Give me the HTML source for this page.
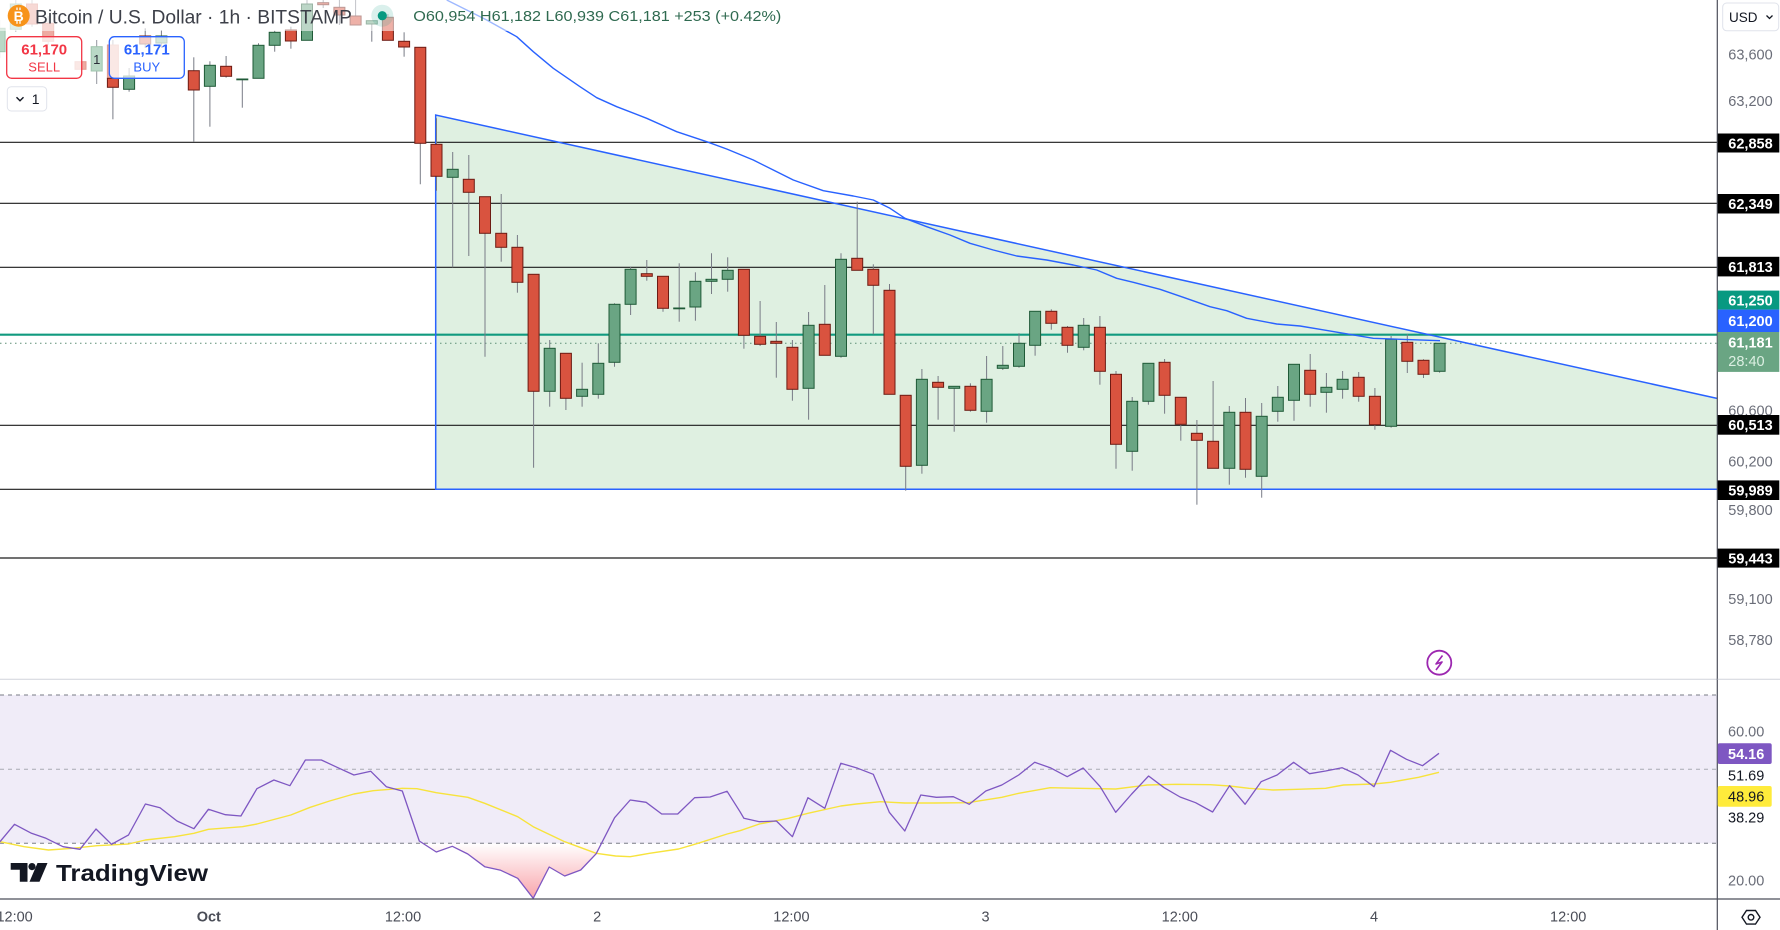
<!DOCTYPE html>
<html><head><meta charset="utf-8"><style>
html,body{margin:0;padding:0;background:#fff;width:1780px;height:930px;overflow:hidden}
svg{display:block}
text{font-family:"Liberation Sans",Arial,sans-serif}
.w{stroke:#787b86;stroke-width:1}
.g{fill:#6aa583;stroke:#1f5a37;stroke-width:1}
.r{fill:#d9533f;stroke:#6d1b13;stroke-width:1}
.fg{fill:#b9d8c6;stroke:#9fc4ad;stroke-width:1}
.fr{fill:#eeaba2;stroke:#e39a90;stroke-width:1}
.hl{stroke:#1c1c1c;stroke-width:1.2}
.ax{font-size:14.5px;fill:#6a6d78}
.bx{font-size:14.5px;fill:#fff;font-weight:bold}
.tm{font-size:14.5px;fill:#4a4d57}
</style></head><body>
<svg width="1780" height="930" viewBox="0 0 1780 930" xmlns="http://www.w3.org/2000/svg">
<rect x="0" y="0" width="1780" height="930" fill="#fff"/>

<!-- triangle -->
<polygon points="435.7,115 1717,398.4 1717,489.3 435.7,489.3" fill="#dff0e1"/>

<!-- horizontal lines -->
<line class="hl" x1="0" x2="1717" y1="142.3" y2="142.3"/>
<line class="hl" x1="0" x2="1717" y1="203.3" y2="203.3"/>
<line class="hl" x1="0" x2="1717" y1="267.3" y2="267.3"/>
<line class="hl" x1="0" x2="1717" y1="425.3" y2="425.3"/>
<line class="hl" x1="0" x2="1717" y1="489.3" y2="489.3"/>
<line class="hl" x1="0" x2="1717" y1="558" y2="558"/>
<line x1="0" x2="1717" y1="334.7" y2="334.7" stroke="#119a7f" stroke-width="2.2"/>
<line x1="0" x2="1717" y1="343.3" y2="343.3" stroke="#5f8f77" stroke-width="1" stroke-dasharray="1.5,3.5"/>

<!-- triangle borders -->
<polyline points="1717,398.4 435.7,115 435.7,489.3 1717,489.3" fill="none" stroke="#2962ff" stroke-width="1.5"/>

<!-- faded left candles -->
<line class="w" x1="-0.4" x2="-0.4" y1="20" y2="58" opacity="0.5"/>
<rect class="fg" x="-5.9" y="28.3" width="11" height="23.4"/>
<line class="w" x1="15.8" x2="15.8" y1="0" y2="32" opacity="0.5"/>
<rect class="fg" x="10.3" y="4" width="11" height="25.3"/>
<line class="w" x1="32" x2="32" y1="0" y2="26.7" opacity="0.5"/>
<rect class="fr" x="26.5" y="4" width="11" height="20"/>
<line class="w" x1="48.2" x2="48.2" y1="16" y2="45" opacity="0.5"/>
<rect class="fr" x="42.7" y="23.3" width="11" height="18"/>
<rect class="fr" x="75" y="61.7" width="11" height="7.6"/>
<line class="w" x1="96.7" x2="96.7" y1="40" y2="84" opacity="0.8"/>
<rect class="fg" x="91.2" y="46.7" width="11" height="24.3"/>
<text x="96.7" y="64" font-size="13" fill="#2a2e39" text-anchor="middle">1</text>
<line class="w" x1="112.9" x2="112.9" y1="40" y2="119.3"/>
<rect class="fr" x="107.4" y="45" width="11" height="33.3"/>
<rect class="r" x="107.4" y="78.3" width="11" height="9"/>
<line class="w" x1="129.1" x2="129.1" y1="68" y2="91.7"/>
<rect class="g" x="123.6" y="76" width="11" height="13.3"/>
<line class="w" x1="145.2" x2="145.2" y1="28.3" y2="48"/>
<rect class="r" x="139.7" y="36" width="11" height="8"/>
<line class="w" x1="161.4" x2="161.4" y1="30" y2="48"/>
<rect class="g" x="155.9" y="36" width="11" height="7"/>

<!-- candles -->
<g>
<line class="w" x1="193.8" x2="193.8" y1="57.3" y2="141.7"/><rect class="r" x="188.3" y="70.7" width="11" height="19.3"/>
<line class="w" x1="209.9" x2="209.9" y1="61.3" y2="126.7"/><rect class="g" x="204.4" y="65.3" width="11" height="21"/>
<line class="w" x1="226.1" x2="226.1" y1="56" y2="77.7"/><rect class="r" x="220.6" y="66.3" width="11" height="10"/>
<line class="w" x1="242.3" x2="242.3" y1="79.3" y2="107.7"/><rect class="g" x="236.8" y="79" width="11" height="0.8"/>
<line class="w" x1="258.5" x2="258.5" y1="43.3" y2="78.3"/><rect class="g" x="253" y="45.3" width="11" height="33"/>
<line class="w" x1="274.7" x2="274.7" y1="30.7" y2="51.7"/><rect class="g" x="269.2" y="32.3" width="11" height="13"/>
<line class="w" x1="290.9" x2="290.9" y1="26.7" y2="48.7"/><rect class="r" x="285.4" y="30" width="11" height="11"/>
<line class="w" x1="307" x2="307" y1="0" y2="40.3"/><rect class="g" x="301.5" y="4" width="11" height="36.3"/>
<line class="w" x1="323.2" x2="323.2" y1="0" y2="8"/><rect class="r" x="317.7" y="2.7" width="11" height="2"/>
<line class="w" x1="339.4" x2="339.4" y1="0" y2="25"/><rect class="r" x="333.9" y="7.3" width="11" height="7.7"/>
<line class="w" x1="355.6" x2="355.6" y1="0" y2="25"/><rect class="r" x="350.1" y="16" width="11" height="9"/>
<line class="w" x1="371.8" x2="371.8" y1="20.7" y2="41.7"/><rect class="g" x="366.3" y="20.7" width="11" height="3.3"/>
<line class="w" x1="387.9" x2="387.9" y1="14" y2="40.3"/><rect class="r" x="382.4" y="17.3" width="11" height="23"/>
<line class="w" x1="404.1" x2="404.1" y1="32.3" y2="56.7"/><rect class="r" x="398.6" y="41.3" width="11" height="5.7"/>
<line class="w" x1="420.3" x2="420.3" y1="47.3" y2="184.3"/><rect class="r" x="414.8" y="47.3" width="11" height="96"/>
<line class="w" x1="436.5" x2="436.5" y1="118.3" y2="190.7"/><rect class="r" x="431" y="144.3" width="11" height="32"/>
<line class="w" x1="452.7" x2="452.7" y1="152" y2="267.3"/><rect class="g" x="447.2" y="169.3" width="11" height="8"/>
<line class="w" x1="468.8" x2="468.8" y1="155" y2="256"/><rect class="r" x="463.3" y="179.3" width="11" height="13"/>
<line class="w" x1="485" x2="485" y1="196.7" y2="356.7"/><rect class="r" x="479.5" y="196.7" width="11" height="36.6"/>
<line class="w" x1="501.2" x2="501.2" y1="194" y2="261.7"/><rect class="r" x="495.7" y="233.3" width="11" height="14"/>
<line class="w" x1="517.4" x2="517.4" y1="235" y2="292.7"/><rect class="r" x="511.9" y="247.3" width="11" height="35"/>
<line class="w" x1="533.6" x2="533.6" y1="274.3" y2="467.7"/><rect class="r" x="528.1" y="274.3" width="11" height="117"/>
<line class="w" x1="549.7" x2="549.7" y1="340" y2="406.7"/><rect class="g" x="544.2" y="348.3" width="11" height="43"/>
<line class="w" x1="565.9" x2="565.9" y1="353.3" y2="410"/><rect class="r" x="560.4" y="353.3" width="11" height="45"/>
<line class="w" x1="582.1" x2="582.1" y1="362.7" y2="406.7"/><rect class="g" x="576.6" y="389.3" width="11" height="7"/>
<line class="w" x1="598.3" x2="598.3" y1="343.3" y2="398.7"/><rect class="g" x="592.8" y="363.3" width="11" height="31"/>
<line class="w" x1="614.5" x2="614.5" y1="303.3" y2="366.7"/><rect class="g" x="609" y="304.3" width="11" height="58"/>
<line class="w" x1="630.6" x2="630.6" y1="266.7" y2="315"/><rect class="g" x="625.1" y="269.3" width="11" height="35"/>
<line class="w" x1="646.8" x2="646.8" y1="260" y2="280.7"/><rect class="r" x="641.3" y="273.7" width="11" height="2.6"/>
<line class="w" x1="663" x2="663" y1="276.3" y2="311.7"/><rect class="r" x="657.5" y="276.3" width="11" height="32"/>
<line class="w" x1="679.2" x2="679.2" y1="263.3" y2="321.7"/><rect class="g" x="673.7" y="308" width="11" height="0.8"/>
<line class="w" x1="695.4" x2="695.4" y1="272.3" y2="320.7"/><rect class="g" x="689.9" y="281.3" width="11" height="25.7"/>
<line class="w" x1="711.5" x2="711.5" y1="253.3" y2="294"/><rect class="g" x="706" y="279.3" width="11" height="2"/>
<line class="w" x1="727.7" x2="727.7" y1="257.3" y2="291.7"/><rect class="g" x="722.2" y="270.3" width="11" height="9"/>
<line class="w" x1="743.9" x2="743.9" y1="269.3" y2="348.7"/><rect class="r" x="738.4" y="269.3" width="11" height="66"/>
<line class="w" x1="760.1" x2="760.1" y1="301" y2="346"/><rect class="r" x="754.6" y="336.3" width="11" height="8"/>
<line class="w" x1="776.3" x2="776.3" y1="322" y2="377.7"/><rect class="r" x="770.8" y="341.3" width="11" height="2"/>
<line class="w" x1="792.4" x2="792.4" y1="340" y2="400.7"/><rect class="r" x="786.9" y="347.3" width="11" height="42"/>
<line class="w" x1="808.6" x2="808.6" y1="312" y2="419.7"/><rect class="g" x="803.1" y="325.3" width="11" height="63"/>
<line class="w" x1="824.8" x2="824.8" y1="285" y2="355.3"/><rect class="r" x="819.3" y="324.3" width="11" height="31"/>
<line class="w" x1="841" x2="841" y1="253.3" y2="357.7"/><rect class="g" x="835.5" y="259.3" width="11" height="97"/>
<line class="w" x1="857.2" x2="857.2" y1="201.7" y2="270.3"/><rect class="r" x="851.7" y="258.3" width="11" height="12"/>
<line class="w" x1="873.3" x2="873.3" y1="264.3" y2="334.3"/><rect class="r" x="867.8" y="269.3" width="11" height="16"/>
<line class="w" x1="889.5" x2="889.5" y1="284" y2="394.3"/><rect class="r" x="884" y="290.3" width="11" height="104"/>
<line class="w" x1="905.7" x2="905.7" y1="395.3" y2="490.7"/><rect class="r" x="900.2" y="395.3" width="11" height="71"/>
<line class="w" x1="921.9" x2="921.9" y1="369" y2="473.7"/><rect class="g" x="916.4" y="379.3" width="11" height="86"/>
<line class="w" x1="938.1" x2="938.1" y1="376" y2="419.7"/><rect class="r" x="932.6" y="382.3" width="11" height="5"/>
<line class="w" x1="954.2" x2="954.2" y1="386.3" y2="431.7"/><rect class="g" x="948.7" y="386.3" width="11" height="2"/>
<line class="w" x1="970.4" x2="970.4" y1="383.3" y2="411.7"/><rect class="r" x="964.9" y="386.3" width="11" height="24"/>
<line class="w" x1="986.6" x2="986.6" y1="356" y2="422.7"/><rect class="g" x="981.1" y="379.3" width="11" height="32"/>
<line class="w" x1="1002.8" x2="1002.8" y1="346" y2="370"/><rect class="g" x="997.3" y="365.3" width="11" height="3"/>
<line class="w" x1="1019" x2="1019" y1="333.3" y2="367.7"/><rect class="g" x="1013.5" y="343.3" width="11" height="23"/>
<line class="w" x1="1035.1" x2="1035.1" y1="311.3" y2="355.7"/><rect class="g" x="1029.6" y="311.3" width="11" height="34"/>
<line class="w" x1="1051.3" x2="1051.3" y1="309.3" y2="329.7"/><rect class="r" x="1045.8" y="311.3" width="11" height="12"/>
<line class="w" x1="1067.5" x2="1067.5" y1="326" y2="352.7"/><rect class="r" x="1062" y="327.3" width="11" height="18"/>
<line class="w" x1="1083.7" x2="1083.7" y1="318" y2="350.3"/><rect class="g" x="1078.2" y="325.3" width="11" height="22"/>
<line class="w" x1="1099.9" x2="1099.9" y1="316" y2="384.7"/><rect class="r" x="1094.4" y="327.3" width="11" height="44"/>
<line class="w" x1="1116" x2="1116" y1="371" y2="468.7"/><rect class="r" x="1110.5" y="374.3" width="11" height="70"/>
<line class="w" x1="1132.2" x2="1132.2" y1="397" y2="470.7"/><rect class="g" x="1126.7" y="401.3" width="11" height="50"/>
<line class="w" x1="1148.4" x2="1148.4" y1="363.3" y2="404.7"/><rect class="g" x="1142.9" y="363.3" width="11" height="38"/>
<line class="w" x1="1164.6" x2="1164.6" y1="359" y2="413.7"/><rect class="r" x="1159.1" y="362.3" width="11" height="33"/>
<line class="w" x1="1180.8" x2="1180.8" y1="397.3" y2="440.7"/><rect class="r" x="1175.3" y="397.3" width="11" height="27"/>
<line class="w" x1="1196.9" x2="1196.9" y1="420" y2="504.7"/><rect class="r" x="1191.4" y="433.3" width="11" height="7"/>
<line class="w" x1="1213.1" x2="1213.1" y1="381" y2="468.3"/><rect class="r" x="1207.6" y="441.3" width="11" height="27"/>
<line class="w" x1="1229.3" x2="1229.3" y1="406" y2="484.7"/><rect class="g" x="1223.8" y="412.3" width="11" height="56"/>
<line class="w" x1="1245.5" x2="1245.5" y1="398" y2="477.7"/><rect class="r" x="1240" y="412.3" width="11" height="57"/>
<line class="w" x1="1261.7" x2="1261.7" y1="403" y2="497.7"/><rect class="g" x="1256.2" y="416.3" width="11" height="60"/>
<line class="w" x1="1277.8" x2="1277.8" y1="386" y2="421.7"/><rect class="g" x="1272.3" y="397.3" width="11" height="14"/>
<line class="w" x1="1294" x2="1294" y1="364.3" y2="420.7"/><rect class="g" x="1288.5" y="364.3" width="11" height="36"/>
<line class="w" x1="1310.2" x2="1310.2" y1="354" y2="406.7"/><rect class="r" x="1304.7" y="370.3" width="11" height="24"/>
<line class="w" x1="1326.4" x2="1326.4" y1="373" y2="412.7"/><rect class="g" x="1320.9" y="387.3" width="11" height="5"/>
<line class="w" x1="1342.6" x2="1342.6" y1="371" y2="398.7"/><rect class="g" x="1337.1" y="379.3" width="11" height="10"/>
<line class="w" x1="1358.7" x2="1358.7" y1="372" y2="401.7"/><rect class="r" x="1353.2" y="377.3" width="11" height="19"/>
<line class="w" x1="1374.9" x2="1374.9" y1="388" y2="429.7"/><rect class="r" x="1369.4" y="396.3" width="11" height="28.4"/>
<line class="w" x1="1391.1" x2="1391.1" y1="336" y2="427.7"/><rect class="g" x="1385.6" y="339.3" width="11" height="87"/>
<line class="w" x1="1407.3" x2="1407.3" y1="334" y2="373"/><rect class="r" x="1401.8" y="342.3" width="11" height="19"/>
<line class="w" x1="1423.5" x2="1423.5" y1="359.3" y2="378"/><rect class="r" x="1418" y="360.3" width="11" height="14"/>
<line class="w" x1="1439.6" x2="1439.6" y1="343.3" y2="372.7"/><rect class="g" x="1434.1" y="343.3" width="11" height="28"/>
</g>

<!-- moving average -->
<polyline fill="none" stroke="#2962ff" stroke-width="1.4" stroke-linejoin="round" points="446.7,0 486.7,20 516.7,36.7 533.3,51.7 553.3,68.3 580,86.7 596.7,97.7 616.7,106.7 646.7,118.3 676.7,131.7 706.7,141.7 726.7,149 753.3,160 773.3,170 793.3,180 823.3,190.7 853.3,196 873.3,200 890,208.3 905,218.3 926.7,226.7 950,235 970,243.3 993.3,250 1016.7,256 1046.7,260 1073.3,265 1096.7,270 1116.7,278.3 1133.3,282.3 1160,289.3 1183.3,297.3 1210,306.7 1226.7,310.7 1246.7,318.3 1276.7,324 1300,326 1320,329.3 1373.3,338.3 1440,340.7"/>

<!-- header fade -->
<rect x="0" y="0" width="790" height="31" fill="#fff" opacity="0.55"/>

<!-- header -->
<circle cx="18.7" cy="15.7" r="11" fill="#f7931a"/>
<text x="18.7" y="21" font-size="14" font-weight="bold" fill="#fff" text-anchor="middle">B</text>
<line x1="17" x2="17" y1="7.5" y2="10" stroke="#fff" stroke-width="1.3"/>
<line x1="20" x2="20" y1="7.5" y2="10" stroke="#fff" stroke-width="1.3"/>
<line x1="17" x2="17" y1="21" y2="23.8" stroke="#fff" stroke-width="1.3"/>
<line x1="20" x2="20" y1="21" y2="23.8" stroke="#fff" stroke-width="1.3"/>
<text x="35" y="23.3" font-size="19" fill="#3d4049" textLength="317" lengthAdjust="spacingAndGlyphs">Bitcoin / U.S. Dollar · 1h · BITSTAMP</text>
<circle cx="382.3" cy="15.7" r="11" fill="#089981" opacity="0.15"/>
<circle cx="382.3" cy="15.7" r="4.6" fill="#089981"/>
<text x="413.3" y="21" font-size="14.5" fill="#2f6a50" textLength="368" lengthAdjust="spacingAndGlyphs">O60,954 H61,182 L60,939 C61,181 +253 (+0.42%)</text>

<!-- sell / buy -->
<rect x="6.7" y="36.7" width="75" height="41.6" rx="5" fill="#fff" fill-opacity="0.72" stroke="#f23645" stroke-width="1.3"/>
<text x="44.2" y="54.3" font-size="15" font-weight="bold" fill="#f23645" text-anchor="middle">61,170</text>
<text x="44.2" y="71.7" font-size="13" fill="#f23645" text-anchor="middle">SELL</text>
<rect x="109.3" y="36.7" width="75" height="41.6" rx="5" fill="#fff" fill-opacity="0.72" stroke="#2962ff" stroke-width="1.3"/>
<text x="146.8" y="54.3" font-size="15" font-weight="bold" fill="#2962ff" text-anchor="middle">61,171</text>
<text x="146.8" y="71.7" font-size="13" fill="#2962ff" text-anchor="middle">BUY</text>
<rect x="7.3" y="86.7" width="39.4" height="24.3" rx="4" fill="#fff" stroke="#e0e3eb" stroke-width="1"/>
<polyline points="16.5,97.3 20,100.8 23.5,97.3" fill="none" stroke="#131722" stroke-width="1.4"/>
<text x="35.7" y="104" font-size="14" fill="#131722" text-anchor="middle">1</text>

<!-- lightning icon -->
<circle cx="1439.3" cy="662.7" r="12" fill="#fff" stroke="#9c27b0" stroke-width="1.8"/>
<polyline points="1442.5,655.5 1436,664 1442,662 1436,670" fill="none" stroke="#9c27b0" stroke-width="1.6" stroke-linejoin="round"/>

<!-- RSI pane -->
<line x1="0" x2="1780" y1="679.3" y2="679.3" stroke="#d1d4dc" stroke-width="1"/>
<rect x="0" y="695" width="1717" height="148.3" fill="#f0ecf8"/>
<line x1="0" x2="1717" y1="695" y2="695" stroke="#787b86" stroke-width="1" stroke-dasharray="4,4"/>
<line x1="0" x2="1717" y1="769.3" y2="769.3" stroke="#a8aab3" stroke-width="1" stroke-dasharray="4,4"/>
<line x1="0" x2="1717" y1="843.3" y2="843.3" stroke="#787b86" stroke-width="1" stroke-dasharray="4,4"/>
<defs>
<linearGradient id="os" x1="0" y1="843.3" x2="0" y2="898.3" gradientUnits="userSpaceOnUse">
<stop offset="0" stop-color="#f23645" stop-opacity="0"/>
<stop offset="1" stop-color="#f23645" stop-opacity="0.45"/>
</linearGradient>
</defs>
<polygon fill="url(#os)" points="422.9,843.3 436.3,852 452.3,846.3 467.8,854 484.7,866.7 500.7,870.3 517.7,878.3 533.2,898.3 549.2,867 564.7,876 580.7,870 596.2,853.7 601.5,843.3"/>
<polyline fill="none" stroke="#f7e33c" stroke-width="1.4" stroke-linejoin="round" points="0,841.7 24.2,846.7 48.5,850 72.7,848.3 96.9,845.7 128.5,844 145.4,840 174.5,836.7 193.9,833.3 208.4,829.3 242.4,826.7 256.9,824 290.8,815 310.2,807.3 329.6,801 353.9,794 373.2,790.7 402.3,788.3 416.9,788.7 436.3,792.7 467.8,797.3 484.7,803.3 517.7,816.7 533.2,826.7 564.7,841.7 596.2,853.3 615.6,856 630.2,856.7 649.5,853.3 678.6,849 698,843.3 727.1,834 740,830.7 759.4,824 788.5,818.3 807.9,813.3 840.8,806 856.3,804 880.6,801.7 904.8,803 933.9,803 967.8,802.7 1001.8,797.3 1018.7,793.3 1050.2,787.7 1079.3,788.3 1115.7,789 1147.2,785 1176.3,784.3 1210.2,784.7 1229.6,786 1248.9,788.3 1273.1,790 1297.4,789.3 1325.6,788.3 1343.5,785 1374,784 1390.5,782.3 1418.6,777.3 1439,772.3"/>
<polyline fill="none" stroke="#7e57c2" stroke-width="1.3" stroke-linejoin="round" points="0,841.7 14.5,824.3 31.5,833.3 46,838.3 63,846.7 80,849.3 96,829 111.5,844.3 128.5,835 145.4,804 160,807.7 177,821 193.9,828.7 208.4,809.3 225.4,814.7 240.9,816 256.9,788.7 273.9,780 289.9,785.7 305.4,760 321.4,760 337.9,767.7 353.9,775 370.8,771.3 386.3,786.7 402.3,791 419.3,841 436.3,852 452.3,846.3 467.8,854 484.7,866.7 500.7,870.3 517.7,878.3 533.2,898.3 549.2,867 564.7,876 580.7,870 596.2,853.7 614.6,817.7 630.2,800 646.1,802.3 661.7,814 677.7,814 694.6,797.7 710.1,797 727.1,791.3 740,811.7 743.9,818.3 759.4,821.7 776.4,821 792.4,836.7 807.9,797.7 824.8,808.3 840.8,763.3 857.8,768.3 873.3,774.3 889.3,812.3 904.8,831 920.8,795 936.3,797.3 953.3,796.7 969.3,804.3 985.8,791 1001.8,785 1018.7,775 1034.7,762.3 1050.2,767.7 1067.2,776.7 1083.2,768 1100.2,786.7 1115.7,812.3 1131.7,794 1148.6,776 1164.1,787.7 1180.1,797 1195.6,802.7 1212.6,812 1229.6,785.7 1245.1,804.3 1261.1,781.7 1277.1,775 1293.6,762.3 1309.6,773.7 1325.6,771 1342,767.7 1358,775 1374,786.7 1390.5,750.3 1406.5,759.3 1422.5,765.7 1439,753.3"/>

<!-- TradingView logo -->
<path d="M10.7,863 H27.5 V881.7 H19.8 V869.8 H10.7 Z" fill="#131722"/>
<circle cx="32" cy="866.6" r="3.6" fill="#131722"/>
<path d="M37.5,863 H47.5 L39.5,881.7 H29.5 Z" fill="#131722"/>
<text x="56" y="881" font-size="23" font-weight="bold" fill="#131722" textLength="152" lengthAdjust="spacingAndGlyphs">TradingView</text>

<!-- axes lines -->
<rect x="1717.5" y="0" width="62.5" height="930" fill="#fff"/>
<line x1="1717.3" x2="1717.3" y1="0" y2="930" stroke="#4c4f5a" stroke-width="1.2"/>
<line x1="0" x2="1780" y1="899" y2="899" stroke="#4c4f5a" stroke-width="1.2"/>
<line x1="1717.5" x2="1780" y1="679.3" y2="679.3" stroke="#d1d4dc" stroke-width="1"/>

<!-- USD -->
<rect x="1722.7" y="3" width="56" height="27.8" rx="4" fill="#fff" stroke="#e0e3eb" stroke-width="1"/>
<text x="1729" y="22" font-size="13.5" fill="#131722">USD</text>
<polyline points="1766.5,15.5 1769.5,18.5 1772.5,15.5" fill="none" stroke="#131722" stroke-width="1.3"/>

<!-- price axis labels -->
<text class="ax" x="1728.3" y="59.7">63,600</text>
<text class="ax" x="1728.3" y="106">63,200</text>
<rect x="1717.7" y="133.5" width="61.6" height="19" fill="#000"/>
<text class="bx" x="1728.3" y="148.3">62,858</text>
<rect x="1717.7" y="194" width="61.6" height="19.5" fill="#000"/>
<text class="bx" x="1728.3" y="209">62,349</text>
<rect x="1717.7" y="256.8" width="61.6" height="19.6" fill="#000"/>
<text class="bx" x="1728.3" y="271.8">61,813</text>
<rect x="1717.7" y="290.6" width="61.6" height="19" fill="#089981"/>
<text class="bx" x="1728.3" y="305.3">61,250</text>
<rect x="1717.7" y="309.6" width="61.6" height="22.4" fill="#2962ff"/>
<text class="bx" x="1728.3" y="326">61,200</text>
<rect x="1717.7" y="332" width="61.6" height="39.9" fill="#6aa583"/>
<text class="bx" x="1728.3" y="347.5">61,181</text>
<text x="1728.3" y="366" font-size="14.5" fill="#dcefe2">28:40</text>
<text class="ax" x="1728.3" y="415.5">60,600</text>
<rect x="1717.7" y="415" width="61.6" height="19.7" fill="#000"/>
<text class="bx" x="1728.3" y="430">60,513</text>
<text class="ax" x="1728.3" y="466.5">60,200</text>
<rect x="1717.7" y="480.4" width="61.6" height="19.6" fill="#000"/>
<text class="bx" x="1728.3" y="495.3">59,989</text>
<text class="ax" x="1728.3" y="515">59,800</text>
<rect x="1717.7" y="548.6" width="61.6" height="19" fill="#000"/>
<text class="bx" x="1728.3" y="563.3">59,443</text>
<text class="ax" x="1728.3" y="604">59,100</text>
<text class="ax" x="1728.3" y="645">58,780</text>

<!-- RSI axis labels -->
<text class="ax" x="1728" y="736.7">60.00</text>
<rect x="1717.7" y="743.3" width="54" height="20.7" rx="2" fill="#7e57c2"/>
<text x="1728" y="759" font-size="14.5" font-weight="bold" fill="#fff">54.16</text>
<text x="1728" y="780.7" font-size="14.5" fill="#131722">51.69</text>
<rect x="1717.7" y="786" width="54" height="20.7" rx="2" fill="#ffeb3b"/>
<text x="1728" y="801.7" font-size="14.5" fill="#131722">48.96</text>
<text x="1728" y="822.7" font-size="14.5" fill="#131722">38.29</text>
<text class="ax" x="1728" y="885.7">20.00</text>

<!-- time axis -->
<text class="tm" x="14.6" y="921.7" text-anchor="middle">12:00</text>
<text class="tm" x="208.8" y="921.7" text-anchor="middle" font-weight="bold">Oct</text>
<text class="tm" x="403" y="921.7" text-anchor="middle">12:00</text>
<text class="tm" x="597.2" y="921.7" text-anchor="middle">2</text>
<text class="tm" x="791.4" y="921.7" text-anchor="middle">12:00</text>
<text class="tm" x="985.6" y="921.7" text-anchor="middle">3</text>
<text class="tm" x="1179.8" y="921.7" text-anchor="middle">12:00</text>
<text class="tm" x="1374" y="921.7" text-anchor="middle">4</text>
<text class="tm" x="1568.2" y="921.7" text-anchor="middle">12:00</text>

<!-- settings icon -->
<polygon points="1742,917.3 1746.5,910.5 1755.5,910.5 1760,917.3 1755.5,924.1 1746.5,924.1" fill="none" stroke="#131722" stroke-width="1.4"/>
<circle cx="1751" cy="917.3" r="2.8" fill="none" stroke="#131722" stroke-width="1.4"/>
</svg>
</body></html>
